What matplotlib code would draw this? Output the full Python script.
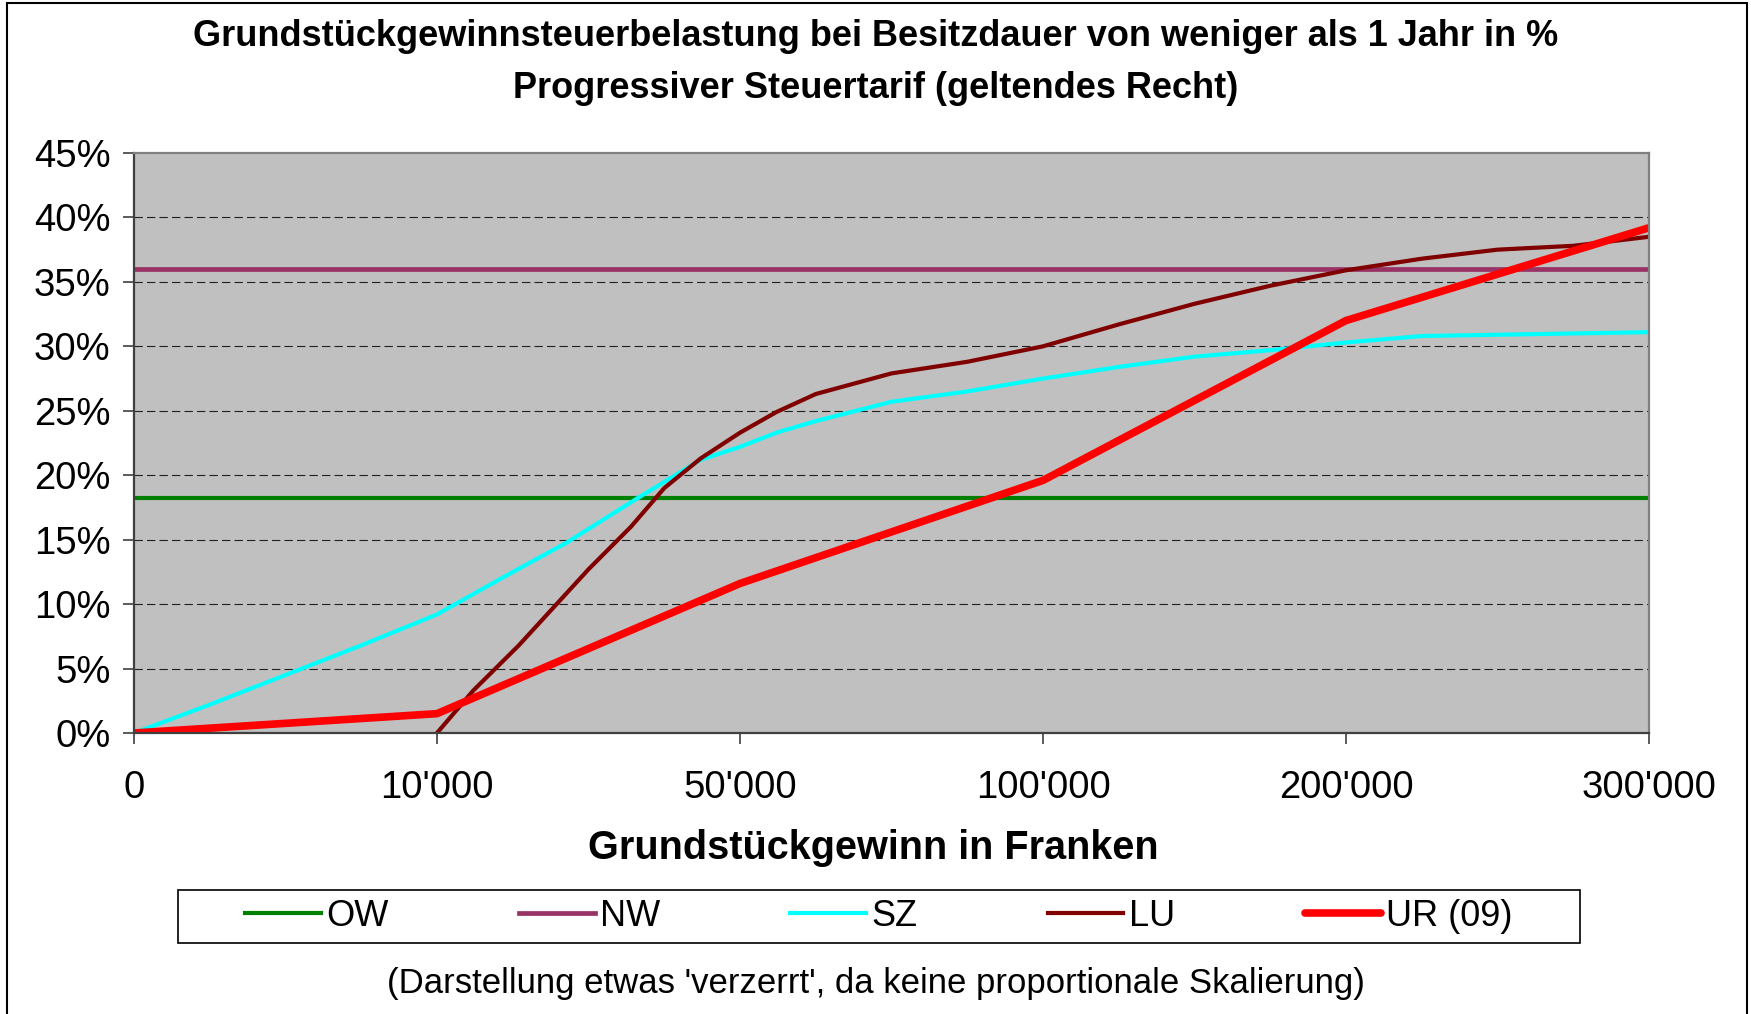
import matplotlib
matplotlib.use('Agg')
import matplotlib.pyplot as plt
from matplotlib.patches import Rectangle
from matplotlib.ticker import FuncFormatter

plt.rcParams['font.family'] = ['Liberation Sans', 'DejaVu Sans']
plt.rcParams['lines.scale_dashes'] = False

# x axis is categorical: 0, 10'000, 50'000, 100'000, 200'000, 300'000
tick_labels = ["0", "10'000", "50'000", "100'000", "200'000", "300'000"]

# tax burden in % (positions along the category axis)
ow_pos = [0, 5]
ow = [18.25, 18.25]

nw_pos = [0, 5]
nw = [36.0, 36.0]

sz_pos = [0, 0.25, 0.75, 1.0, 1.22, 1.43, 1.64, 1.87, 2.0, 2.12, 2.25,
          2.5, 2.75, 3.0, 3.25, 3.5, 3.75, 4.0, 4.25, 4.5, 4.75, 5.0]
sz = [0, 2.2, 6.8, 9.2, 12.1, 14.8, 17.9, 21.2, 22.2, 23.3, 24.2,
      25.7, 26.5, 27.5, 28.4, 29.2, 29.7, 30.3, 30.8, 30.9, 31.0, 31.1]

lu_pos = [1.0, 1.12, 1.27, 1.5, 1.64, 1.75, 1.87, 2.0, 2.12, 2.25, 2.375,
          2.5, 2.75, 3.0, 3.25, 3.5, 3.75, 4.0, 4.25, 4.5, 4.75, 5.0]
lu = [0, 3.3, 6.8, 12.7, 16.0, 19.0, 21.3, 23.3, 24.9, 26.3, 27.1,
      27.9, 28.8, 30.0, 31.7, 33.3, 34.7, 35.9, 36.8, 37.5, 37.8, 38.5]

ur_pos = [0, 1, 2, 3, 4, 5]
ur = [0, 1.5, 11.6, 19.6, 32.0, 39.2]


def main():
    fig = plt.figure(figsize=(17.51, 10.14), dpi=100)
    ax = fig.add_axes([134 / 1751, 1 - 733 / 1014, 1515 / 1751, 580 / 1014])
    make_plot(fig, ax)
    fig.savefig('out.png', dpi=100)


def make_plot(fig, ax):
    ax.set_facecolor('#C0C0C0')

    ax.plot(ow_pos, ow, color='#008000', lw=3.0, label='OW')
    ax.plot(nw_pos, nw, color='#993366', lw=3.4, label='NW')
    ax.plot(sz_pos, sz, color='#00FFFF', lw=3.0, label='SZ')
    ax.plot(lu_pos, lu, color='#800000', lw=3.0, label='LU')
    ax.plot(ur_pos, ur, color='#FF0000', lw=5.5, label='UR (09)',
            solid_capstyle='round')

    ax.set_xlim(0, 5)
    ax.set_ylim(0, 45)
    ax.set_xticks(range(len(tick_labels)))
    ax.set_xticklabels(tick_labels)
    ax.set_yticks(range(0, 50, 5))
    ax.yaxis.set_major_formatter(FuncFormatter(lambda v, p: '%d%%' % v))
    ax.tick_params(axis='both', labelsize=27.5, length=8, width=1.2,
                   color='#404040', direction='out')
    ax.tick_params(axis='y', pad=9)
    ax.tick_params(axis='x', pad=19)

    for y in range(5, 45, 5):
        ax.axhline(y, color='#202020', lw=0.8, dashes=(6, 3), zorder=1)

    for side in ['top', 'right']:
        ax.spines[side].set_color('#808080')
        ax.spines[side].set_linewidth(1.6)
    for side in ['left', 'bottom']:
        ax.spines[side].set_color('#404040')
        ax.spines[side].set_linewidth(1.6)

    ax.set_xlabel('Grundstückgewinn in Franken', fontsize=28.5,
                  fontweight='bold')
    ax.xaxis.set_label_coords(0.488, -0.165)

    fig.text(0.5, 1 - 36 / 1014, 'Grundstückgewinnsteuerbelastung bei '
             'Besitzdauer von weniger als 1 Jahr in %', ha='center',
             va='center', fontsize=26, fontweight='bold')
    fig.text(0.5, 1 - 89 / 1014, 'Progressiver Steuertarif (geltendes Recht)',
             ha='center', va='center', fontsize=26, fontweight='bold')
    fig.text(0.5, 1 - 983 / 1014, "(Darstellung etwas 'verzerrt', da keine "
             "proportionale Skalierung)", ha='center', va='center',
             fontsize=25)

    # legend box
    x0, x1, y0, y1 = 178, 1580, 890, 943
    fig.patches.append(Rectangle((x0 / 1751, 1 - y1 / 1014),
                                 (x1 - x0) / 1751, (y1 - y0) / 1014,
                                 transform=fig.transFigure, fill=False,
                                 edgecolor='black', lw=1.2))
    fig.legend(loc='center', bbox_to_anchor=((x0 + x1) / 2 / 1751,
                                             1 - (y0 + y1) / 2 / 1014),
               ncol=5, frameon=False, fontsize=26, handlelength=2.1,
               handletextpad=0.15, columnspacing=3.6, borderpad=0.1)

    # outer chart border
    fig.patches.append(Rectangle((7 / 1751, -0.01), 1740 / 1751,
                                 1.01 - 3 / 1014, transform=fig.transFigure,
                                 fill=False, edgecolor='black', lw=1.5))
    return


if __name__ == '__main__':
    main()
